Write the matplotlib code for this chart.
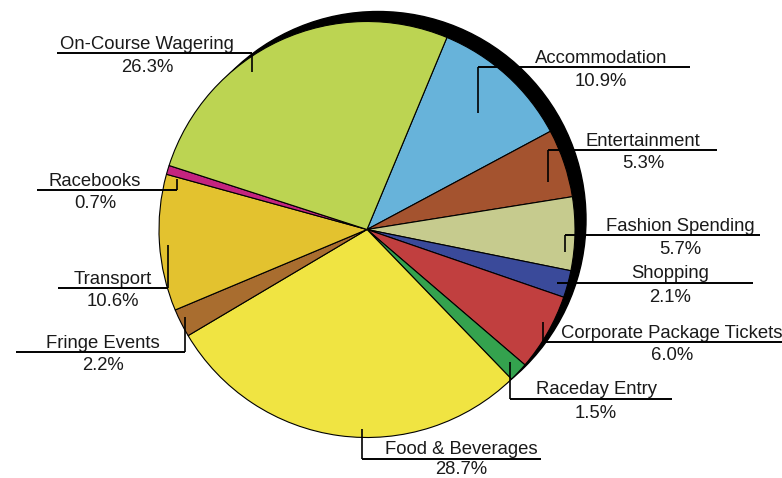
import matplotlib.pyplot as plt
from matplotlib.patches import Circle

# share of spending by category (%)
categories = ["Accommodation", "Entertainment", "Fashion Spending", "Shopping",
              "Corporate Package Tickets", "Raceday Entry", "Food & Beverages",
              "Fringe Events", "Transport", "Racebooks", "On-Course Wagering"]
shares = [10.9, 5.3, 5.7, 2.1, 6.0, 1.5, 28.7, 2.2, 10.6, 0.7, 26.3]
colors = ["#67b3da", "#a4532f", "#c6cb8e", "#3a4a9a", "#c13f3f", "#34a24e",
          "#f0e442", "#a96d2f", "#e3c22f", "#c4247f", "#bcd452"]

# label placement in pixels: text centre x, line y, line x0, x1, leader end y
label_pos = {
    "Accommodation": (601, 67, 478, 690, 113),
    "Entertainment": (643, 150, 548, 717, 182),
    "Fashion Spending": (680, 235, 565, 760, 252),
    "Shopping": (670, 283, 557, 753, None),
    "Corporate Package Tickets": (672, 342, 543, 800, 322),
    "Raceday Entry": (596, 399, 510, 672, 362),
    "Food & Beverages": (461, 459, 362, 541, 429),
    "Fringe Events": (103, 352, 185, 16, 317),
    "Transport": (113, 288, 168, 58, 245),
    "Racebooks": (95, 190, 177, 37, 179),
    "On-Course Wagering": (147, 53, 252, 57, 72),
}

W, H = 782, 478
cx, cy, r = 367, 229.5, 208

fig = plt.figure(figsize=(W / 100, H / 100), dpi=100)
ax = fig.add_axes([0, 0, 1, 1])

# shadow behind the pie
ax.add_patch(Circle((cx + 11, cy - 10), r, color="black", zorder=0))

# y axis is flipped (pixel coords) so angles run the other way
ax.pie(shares, colors=colors, center=(cx, cy), radius=r,
       startangle=-67.4, counterclock=True,
       wedgeprops=dict(edgecolor="black", linewidth=0.8))

ax.set_xlim(0, W)
ax.set_ylim(H, 0)
ax.set_aspect("equal")
ax.axis("off")

font = dict(family=["Liberation Sans", "DejaVu Sans"], fontsize=13.3, color="#1a1a1a")
for name, val in zip(categories, shares):
    tx, ly, x0, x1, lead = label_pos[name]
    ax.plot([x0, x1], [ly, ly], color="black", lw=1.4, solid_capstyle="butt", zorder=5)
    if lead is not None:
        ax.plot([x0, x0], [ly, lead], color="black", lw=1.2, solid_capstyle="butt", zorder=5)
    ax.text(tx, ly - 4.5, name, ha="center", va="baseline", **font)
    # keep the bottom percentage inside the figure
    pct_y = min(ly + 18.5, H - 4)
    ax.text(tx, pct_y, f"{val:.1f}%", ha="center", va="baseline", **font)

fig.savefig("out.png", dpi=100)
